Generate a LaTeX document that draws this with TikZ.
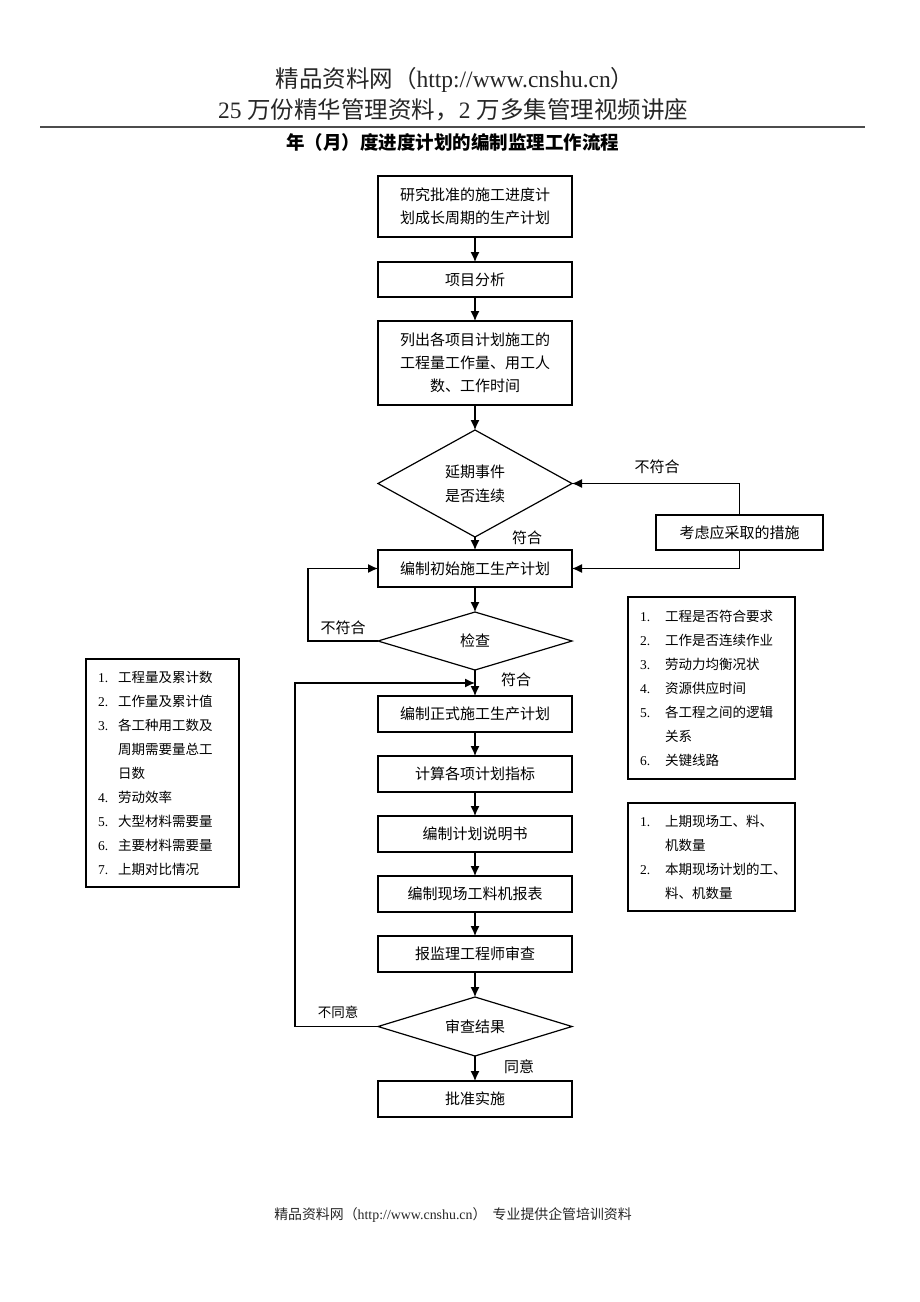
\documentclass[tikz,border=0pt]{standalone}
\usepackage{fontspec}
\setmainfont{Liberation Serif}
\newfontfamily\cjk{Noto Sans CJK SC}
\usetikzlibrary{shapes.geometric,positioning,arrows.meta}
\newcommand{\nitem}[3]{\makebox[#1][l]{\rmfamily #2}#3}

\begin{document}
\begin{tikzpicture}
	[x=1pt,y=-1pt,->,>={Latex[length=10pt,width=9pt]},line width=1.2pt,node distance=24pt,outer sep=0pt]
	\tikzstyle{proc}=[draw,rectangle,minimum width=194pt,minimum height=36pt,inner sep=2pt,align=center,font=\cjk\fontsize{15}{23}\selectfont]
	\tikzstyle{decide}=[draw,diamond,aspect=2,inner sep=0pt,minimum width=194pt,align=center,font=\cjk\fontsize{15}{24}\selectfont]
	\tikzstyle{note}=[draw,rectangle,inner xsep=12pt,align=left,font=\cjk\fontsize{13.5}{24}\selectfont]
	\tikzstyle{lbl}=[inner sep=0pt,font=\cjk\fontsize{15}{18}\selectfont]
	\tikzstyle{head}=[inner sep=0pt,text=black!85,font=\fontsize{23.5}{28}\selectfont]

	\useasboundingbox (0,0) rectangle (920,1302);

	\node[head] (site)   at (455,80)  {{\cjk 精品资料网（}http://www.cnshu.cn{\cjk ）}};
	\node[head] (slogan) at (453,110) {25 {\cjk 万份精华管理资料，}2 {\cjk 万多集管理视频讲座}};
	\draw[-,line width=1.5pt,black!70] (40,127) -- (865,127);
	\node[inner sep=0pt,font=\cjk\bfseries\fontsize{18.5}{22}\selectfont] (title) at (452.5,142) {年（月）度进度计划的编制监理工作流程};

	\node[proc,minimum height=61pt] (study) at (475,206.5) {研究批准的施工进度计\\划成长周期的生产计划};
	\node[proc,minimum height=35pt] (analyse) [below=25pt of study]   {项目分析};
	\node[proc,minimum height=84pt] (list)    [below=of analyse]       {列出各项目计划施工的\\工程量工作量、用工人\\数、工作时间};
	\node[decide,minimum height=107pt] (delay) [below=25pt of list]    {延期事件\\是否连续};
	\node[proc,minimum height=37pt] (draft)   [below=13pt of delay]    {编制初始施工生产计划};
	\node[decide,minimum height=58pt] (check) [below=25pt of draft]    {检查};
	\node[proc] (formal)  [below=26pt of check]  {编制正式施工生产计划};
	\node[proc] (index)   [below=of formal]      {计算各项计划指标};
	\node[proc] (manual)  [below=of index]       {编制计划说明书};
	\node[proc] (report)  [below=of manual]      {编制现场工料机报表};
	\node[proc] (submit)  [below=of report]      {报监理工程师审查};
	\node[decide,minimum height=59pt] (result) [below=25pt of submit] {审查结果};
	\node[proc] (approve) [below=25pt of result] {批准实施};

	\node[proc,minimum width=167pt,minimum height=35pt] (measure) at (739.5,532.5) {考虑应采取的措施};
	\coordinate[below=13pt of check] (join);

	\node[note,text width=129pt,minimum height=228pt] (amounts) at (162.5,773) {%
		\nitem{20pt}{1.}{工程量及累计数}\\
		\nitem{20pt}{2.}{工作量及累计值}\\
		\nitem{20pt}{3.}{各工种用工数及}\\
		\hspace*{20pt}周期需要量总工\\
		\hspace*{20pt}日数\\
		\nitem{20pt}{4.}{劳动效率}\\
		\nitem{20pt}{5.}{大型材料需要量}\\
		\nitem{20pt}{6.}{主要材料需要量}\\
		\nitem{20pt}{7.}{上期对比情况}};
	\node[note,text width=143pt,minimum height=182pt] (checks) at (711.5,688) {%
		\nitem{25pt}{1.}{工程是否符合要求}\\
		\nitem{25pt}{2.}{工作是否连续作业}\\
		\nitem{25pt}{3.}{劳动力均衡况状}\\
		\nitem{25pt}{4.}{资源供应时间}\\
		\nitem{25pt}{5.}{各工程之间的逻辑}\\
		\hspace*{25pt}关系\\
		\nitem{25pt}{6.}{关键线路}};
	\node[note,text width=143pt,minimum height=108pt] (labour) at (711.5,857) {%
		\nitem{25pt}{1.}{上期现场工、料、}\\
		\hspace*{25pt}机数量\\
		\nitem{25pt}{2.}{本期现场计划的工、}\\
		\hspace*{25pt}料、机数量};

	\path (study) edge (analyse)
		(analyse) edge (list)
		(list) edge (delay)
		(delay) edge (draft)
		(draft) edge (check)
		(check) edge (formal)
		(formal) edge (index)
		(index) edge (manual)
		(manual) edge (report)
		(report) edge (submit)
		(submit) edge (result)
		(result) edge (approve);
	\draw (measure.north) |- (delay.east);
	\draw (measure.south) |- (draft.east);
	\draw (check.west) -- ++(-70,0) |- (draft.west);
	\draw (result.west) -- ++(-83,0) |- (join);

	\node[lbl] (fit1)    at (527,538)  {符合};
	\node[lbl] (nofit1)  at (657,467)  {不符合};
	\node[lbl] (nofit2)  at (343,628)  {不符合};
	\node[lbl] (fit2)    at (516,680)  {符合};
	\node[lbl,font=\cjk\fontsize{13.5}{16}\selectfont] (refuse) at (338,1012) {不同意};
	\node[lbl] (agree)   at (519,1067) {同意};

	\node[inner sep=0pt,text=black!85,font=\fontsize{13.9}{16}\selectfont] (footer) at (453,1215)
		{{\cjk 精品资料网（}http://www.cnshu.cn{\cjk ）\ \ 专业提供企管培训资料}};
\end{tikzpicture}
\end{document}
